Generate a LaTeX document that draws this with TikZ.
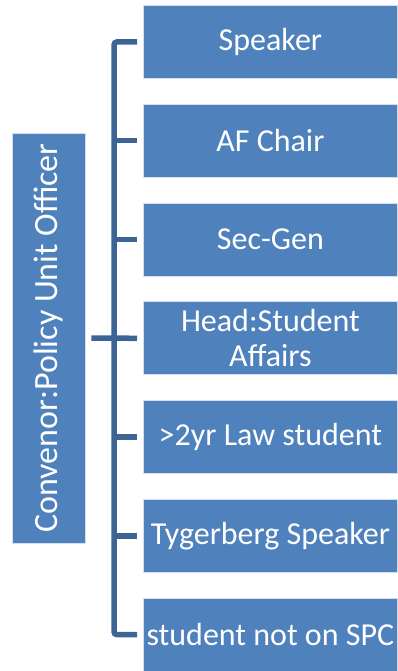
\documentclass[tikz,border=0pt]{standalone}
\usepackage{fontspec}
\setmainfont{Carlito}
\begin{document}
\begin{tikzpicture}[x=1pt,y=1pt,
  box/.style={draw=white!75!boxblue, line width=0.8pt, fill=boxblue, text=white,
    minimum width=254pt, minimum height=73pt, inner sep=1pt, align=center,
    font=\fontsize{32}{35}\selectfont, anchor=north west},
  bracket/.style={draw=linecol, line width=5.5pt}]
\definecolor{boxblue}{HTML}{4F81BD}
\definecolor{linecol}{HTML}{3C6494}
\useasboundingbox (0,0) rectangle (398,-671);
\node[box, rotate=90, minimum width=410pt, minimum height=73pt, anchor=center,
  font=\fontsize{34}{38}\selectfont] (conv) at (48.5,-338) {Convenor:Policy Unit Officer};
\node[box] (b1) at (143,-5) {Speaker};
\node[box] (b2) at (143,-103.8) {AF Chair};
\node[box] (b3) at (143,-202.6) {Sec-Gen};
\node[box] (b4) at (143,-301.4) {Head:Student\\Affairs};
\node[box] (b5) at (143,-400.2) {{>}2yr Law student};
\node[box] (b6) at (143,-499) {Tygerberg Speaker};
\node[box] (b7) at (143,-597.8) {student not on SPC};
\draw[bracket, rounded corners=3pt] ([xshift=-6pt]b1.west) -- ++(-23pt,0) |- ([xshift=-6pt]b7.west);
\foreach \b in {b2,b3,b4,b5,b6}
  \draw[bracket] ([xshift=-6pt]\b.west) -- ++(-23pt,0);
\draw[bracket] ([xshift=6pt]conv.south) -- ([xshift=-6pt]b4.west);
\end{tikzpicture}
\end{document}
